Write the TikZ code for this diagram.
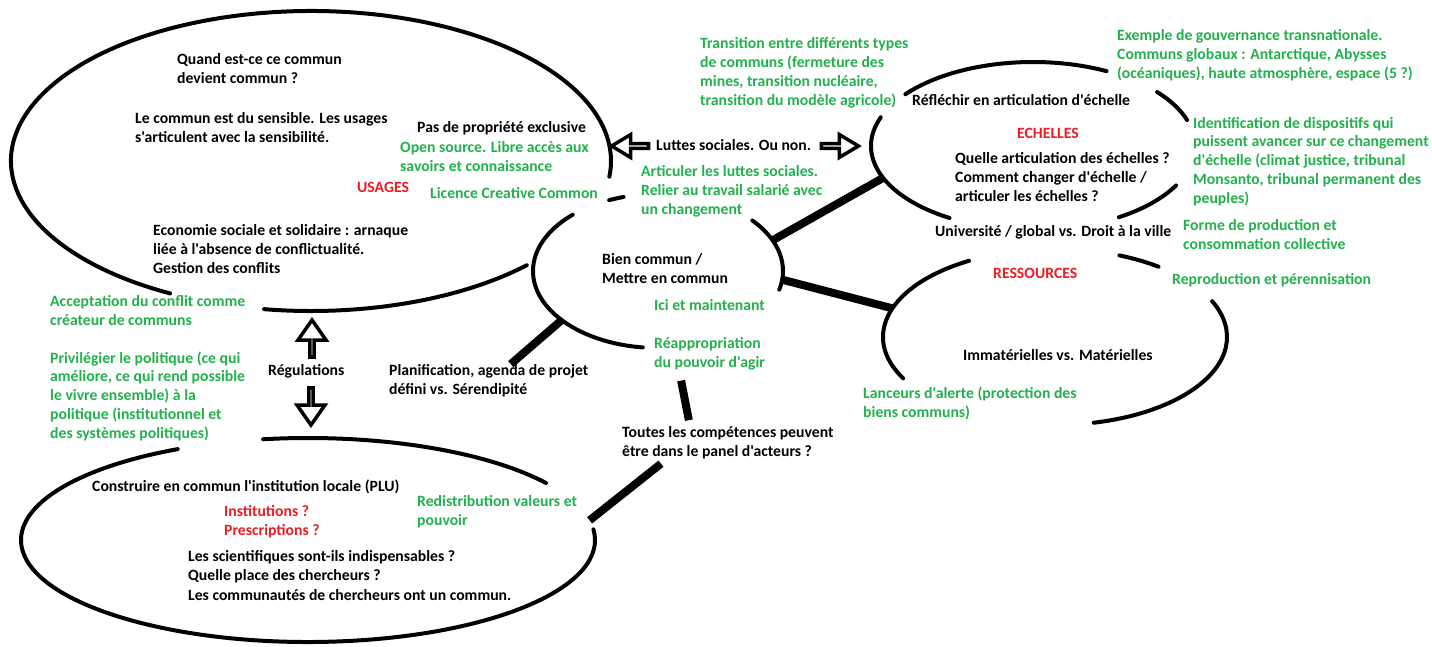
\documentclass[tikz,border=0pt]{standalone}
\usepackage{fontspec}
\setmainfont{Carlito}[Ligatures=TeXOff]
\usetikzlibrary{positioning,shapes.geometric,shapes.arrows}
\definecolor{paintgreen}{HTML}{22B14C}
\definecolor{paintred}{HTML}{ED1C24}

\begin{document}
\begin{tikzpicture}[
  x=1pt, y=-1pt,
  font=\fontsize{15.7}{18.7}\selectfont\bfseries,
  txt/.style={anchor=base west, align=left, inner sep=0pt},
  idea/.style={txt, text=black},
  note/.style={txt, text=paintgreen},
  theme/.style={txt, text=paintred},
  zone/.style={ellipse, inner sep=0pt, outer sep=0pt},
  rim/.style={line width=4pt, line cap=round},
  link/.style={line width=8pt},
  hollow/.style={single arrow, draw, line width=3.5pt, fill=white, inner sep=0pt, minimum height=37pt}
]
\fill[white] (0,0) rectangle (1432,646);
\useasboundingbox (0,0) rectangle (1432,646);

\node[zone, minimum width=600, minimum height=300] (usages) at (311,161) {};
\node[zone, minimum width=324, minimum height=168] (echelles) at (1033,146) {};
\node[zone, minimum width=344, minimum height=176] (ressources) at (1055,337) {};
\node[zone, minimum width=250, minimum height=154] (bien) at (658,271) {};
\node[zone, minimum width=574, minimum height=204] (institution) at (308,540) {};

\node[idea] (q1) at (177,83) {Quand est-ce ce commun\\devient commun ?};
\node[idea] (q2) at (135,142) {Le commun est du sensible. Les usages\\s'articulent avec la sensibilité.};
\node[idea] (prop) at (417,132) {Pas de propriété exclusive};
\node[note] (opensrc) at (400,171) {Open source. Libre accès aux\\savoirs et connaissance};
\node[theme] (usageslbl) at (357,192) {USAGES};
\node[note] (licence) at (430,198) {Licence Creative Common};
\node[idea] (ess) at (153,273) {Economie sociale et solidaire : arnaque\\liée à l'absence de conflictualité.\\Gestion des conflits};
\node[note] (accept) at (50,325) {Acceptation du conflit comme\\créateur de communs};
\node[note] (privil) at (50,438) {Privilégier le politique (ce qui\\améliore, ce qui rend possible\\le vivre ensemble) à la\\politique (institutionnel et\\des systèmes politiques)};
\node[idea] (regul) at (268,375) {Régulations};

\node[note] (transition) at (700,105) {Transition entre différents types\\de communs (fermeture des\\mines, transition nucléaire,\\transition du modèle agricole)};
\node[idea] (luttes) at (656,150) {Luttes sociales. Ou non.};
\node[note] (articuler) at (641,214) {Articuler les luttes sociales.\\Relier au travail salarié avec\\un changement};
\node[idea] (bienlbl) at (602,283) {Bien commun /\\Mettre en commun};
\node[note] (ici) at (654,310) {Ici et maintenant};
\node[note] (reappro) at (654,367) {Réappropriation\\du pouvoir d'agir};
\node[idea] (plan) at (389,394) {Planification, agenda de projet\\défini vs. Sérendipité};
\node[idea] (toutes) at (622,456) {Toutes les compétences peuvent\\être dans le panel d'acteurs ?};

\node[note] (exemple) at (1117,78) {Exemple de gouvernance transnationale.\\Communs globaux : Antarctique, Abysses\\(océaniques), haute atmosphère, espace (5 ?)};
\node[idea] (reflechir) at (912,105) {Réfléchir en articulation d'échelle};
\node[theme] (echelleslbl) at (1017,138) {ECHELLES};
\node[note] (identif) at (1193,203) {Identification de dispositifs qui\\puissent avancer sur ce changement\\d'échelle (climat justice, tribunal\\Monsanto, tribunal permanent des\\peuples)};
\node[idea] (quelle) at (955,201) {Quelle articulation des échelles ?\\Comment changer d'échelle /\\articuler les échelles ?};
\node[idea] (univ) at (935,236) {Université / global vs. Droit à la ville};
\node[note] (forme) at (1183,249) {Forme de production et\\consommation collective};
\node[theme] (ressourceslbl) at (993,278) {RESSOURCES};
\node[note] (repro) at (1172,284) {Reproduction et pérennisation};
\node[idea] (immat) at (963,360) {Immatérielles vs. Matérielles};
\node[note] (lanceurs) at (863,417) {Lanceurs d'alerte (protection des\\biens communs)};

\node[idea] (construire) at (92,491) {Construire en commun l'institution locale (PLU)};
\node[theme] (instit) at (224,535) {Institutions ?\\Prescriptions ?};
\node[note] (redis) at (417,525) {Redistribution valeurs et\\pouvoir};
\node[idea, font=\fontsize{15.7}{19.5}\selectfont\bfseries] (scient) at (188,600) {Les scientifiques sont-ils indispensables ?\\Quelle place des chercheurs ?\\Les communautés de chercheurs ont un commun.};

\draw[rim] (usages.center) ++(118:300 and 150) arc[start angle=118, end angle=366, x radius=300, y radius=150];
\draw[rim] (usages.center) ++(44:300 and 150) arc[start angle=44, end angle=99, x radius=300, y radius=150];
\draw[rim] (echelles.center) ++(218:162 and 84) arc[start angle=218, end angle=297, x radius=162, y radius=84];
\draw[rim] (echelles.center) ++(320:162 and 84) arc[start angle=320, end angle=342, x radius=162, y radius=84];
\draw[rim] (echelles.center) ++(28:162 and 84) arc[start angle=28, end angle=58, x radius=162, y radius=84];
\draw[rim] (echelles.center) ++(121:162 and 84) arc[start angle=121, end angle=200, x radius=162, y radius=84];
\draw[rim] (ressources.center) ++(152:172 and 88) arc[start angle=152, end angle=240, x radius=172, y radius=88];
\draw[rim] (ressources.center) ++(292:172 and 88) arc[start angle=292, end angle=307, x radius=172, y radius=88];
\draw[rim] (ressources.center) ++(336:172 and 88) arc[start angle=336, end angle=437, x radius=172, y radius=88];
\draw[rim] (bien.center) ++(319:125 and 77) arc[start angle=319, end angle=374, x radius=125, y radius=77];
\draw[rim] (bien.center) ++(97:125 and 77) arc[start angle=97, end angle=227, x radius=125, y radius=77];
\draw[rim] (bien.center) ++(247:125 and 77) arc[start angle=247, end angle=254, x radius=125, y radius=77];
\draw[rim] (institution.center) ++(261:287 and 102) arc[start angle=261, end angle=326, x radius=287, y radius=102];
\draw[rim] (institution.center) ++(-6:287 and 102) arc[start angle=-6, end angle=243, x radius=287, y radius=102];

\draw[link] (bien.15) -- (echelles.192);
\draw[link] (bien.356) -- (ressources.170);
\draw[link] (bien.207) -- ([xshift=22pt]plan.north);
\draw[link, shorten <=11pt, shorten >=6pt] ([xshift=25pt]reappro.south west) -- ([xshift=68pt]toutes.north west);
\draw[link] (institution.4) -- ([xshift=39pt, yshift=-5pt]toutes.south west);

\node[hollow, minimum width=28pt, single arrow head extend=10pt, single arrow tip angle=70, shape border rotate=90] (regup) at (312,340) {};
\node[hollow, minimum width=28pt, single arrow head extend=10pt, single arrow tip angle=70, shape border rotate=270] (regdown) at (311,405) {};
\node[hollow, minimum width=23pt, single arrow head extend=7pt, single arrow tip angle=62, shape border rotate=180] (luttesleft) at (632,146) {};
\node[hollow, minimum width=23pt, single arrow head extend=7pt, single arrow tip angle=62] (luttesright) at (838,146) {};
\end{tikzpicture}
\end{document}
